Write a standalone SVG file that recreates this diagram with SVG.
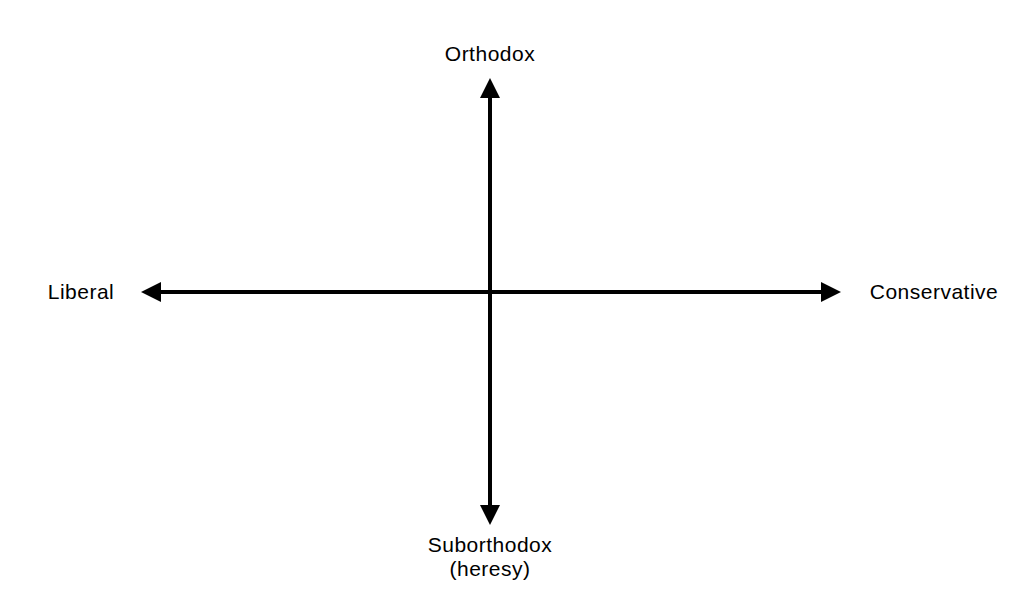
<svg xmlns="http://www.w3.org/2000/svg" width="1034" height="614" viewBox="0 0 1034 614">
  <defs>
    <style>
      .lbl { font-family: "Liberation Sans", Arial, sans-serif; font-size: 21px; letter-spacing: 0.5px; fill: #000; }
      .axis { stroke: #000; stroke-width: 4; fill: none; }
      .head { fill: #000; }
    </style>
  </defs>
  <rect width="1034" height="614" fill="#fff"/>
  <g id="connectors">
    <line class="axis" x1="158" y1="292" x2="824" y2="292"/>
    <polygon class="head" points="141,292 161,282 161,302"/>
    <polygon class="head" points="841,292 821,282 821,302"/>
    <line class="axis" x1="490" y1="95" x2="490" y2="508"/>
    <polygon class="head" points="490,78 480,98 500,98"/>
    <polygon class="head" points="490,525 480,505 500,505"/>
  </g>
  <g id="orthodox">
    <text class="lbl" x="490" y="61" text-anchor="middle">Orthodox</text>
  </g>
  <g id="liberal">
    <text class="lbl" x="81" y="299" text-anchor="middle">Liberal</text>
  </g>
  <g id="conservative">
    <text class="lbl" x="934" y="299" text-anchor="middle">Conservative</text>
  </g>
  <g id="suborthodox">
    <text class="lbl" x="490" y="552" text-anchor="middle">Suborthodox</text>
    <text class="lbl" x="490" y="576" text-anchor="middle">(heresy)</text>
  </g>
</svg>
